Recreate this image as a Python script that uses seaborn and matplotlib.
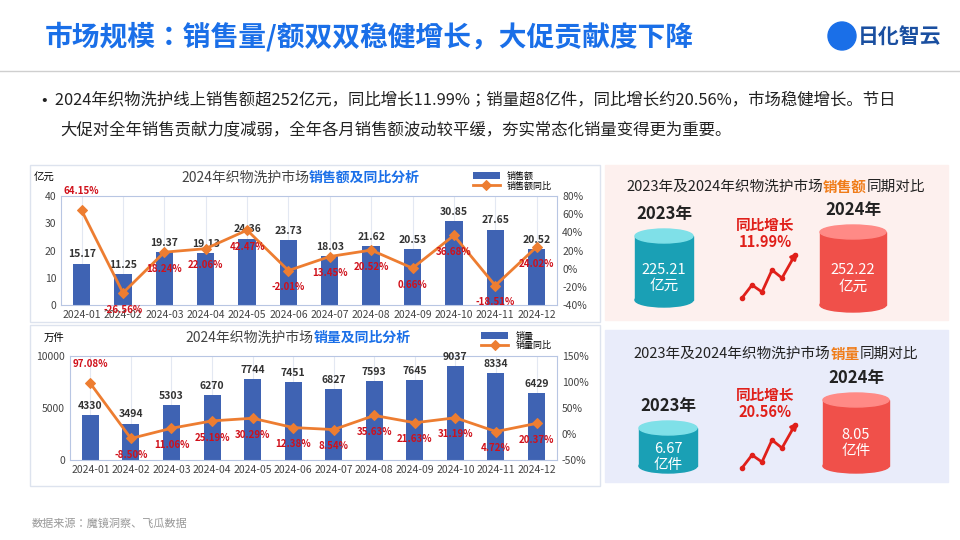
import matplotlib.pyplot as plt
import numpy as np
import pandas as pd
import seaborn as sns
from matplotlib.patches import Ellipse, Rectangle

plt.rcParams["font.family"] = ["Noto Sans CJK JP", "DejaVu Sans"]

months = [f"2024-{m:02d}" for m in range(1, 13)]
sales_amt = [15.17, 11.25, 19.37, 19.13, 24.36, 23.73, 18.03, 21.62, 20.53, 30.85, 27.65, 20.52]
amt_yoy = [64.15, -26.56, 18.24, 22.06, 42.47, -2.01, 13.45, 20.52, 0.66, 36.68, -18.51, 24.02]
sales_vol = [4330, 3494, 5303, 6270, 7744, 7451, 6827, 7593, 7645, 9037, 8334, 6429]
vol_yoy = [97.08, -8.50, 11.06, 25.19, 30.29, 12.38, 8.54, 35.63, 21.63, 31.19, 4.72, 20.37]

BLUE = "#3f63b3"
ORANGE = "#ed7d31"
RED = "#d0101a"
TITLE_BLUE = "#1a6fe8"

fig = plt.figure(figsize=(9.6, 5.4), dpi=100)
bg = fig.add_axes([0, 0, 1, 1])
bg.set_xlim(0, 960)
bg.set_ylim(540, 0)
bg.axis("off")
renderer = fig.canvas.get_renderer()

# header
bg.text(45, 37, "市场规模：销售量/额双双稳健增长，大促贡献度下降", fontsize=20,
        fontweight="bold", color=TITLE_BLUE, va="center")
bg.text(900, 37, "日化智云", fontsize=15, fontweight="bold", color="#1a4fa0",
        va="center", ha="center")
bg.add_patch(Ellipse((842, 36), 28, 28, color="#1a6fe8"))
bg.plot([0, 960], [71, 71], color="#cfcfcf", lw=1)
bg.text(42, 100, "•  2024年织物洗护线上销售额超252亿元，同比增长11.99%；销量超8亿件，同比增长约20.56%，市场稳健增长。节日",
        fontsize=11.8, va="center", color="#222222")
bg.text(60, 130, "大促对全年销售贡献力度减弱，全年各月销售额波动较平缓，夯实常态化销量变得更为重要。",
        fontsize=11.8, va="center", color="#222222")
bg.text(32, 524, "数据来源：魔镜洞察、飞瓜数据", fontsize=8, color="#999999", va="center")

# chart frames
for y0, y1 in [(165, 322), (325, 486)]:
    bg.add_patch(Rectangle((30, y0), 570, y1 - y0, fill=False, ec="#dde3ee", lw=1))

# right panels
bg.add_patch(Rectangle((605, 165), 343, 155, color="#fdf0ee"))
bg.add_patch(Rectangle((605, 330), 343, 152, color="#e9ecfa"))


def cylinder(cx, top, bottom, w, body, cap, label, value):
    bg.add_patch(Rectangle((cx - w / 2, top), w, bottom - top, color=body, zorder=3))
    bg.add_patch(Ellipse((cx, bottom), w, 14, color=body, zorder=3))
    bg.add_patch(Ellipse((cx, top), w, 14, color=cap, zorder=4))
    bg.text(cx, top - 22, label, ha="center", va="center", fontsize=12,
            fontweight="bold", color="#222222")
    bg.text(cx, (top + bottom) / 2 + 10, value, ha="center", va="center",
            fontsize=10.5, color="white", zorder=5, linespacing=1.2)


def zigzag(pct, y_off):
    xs = [742, 752, 762, 772, 782, 795]
    ys = [298, 285, 292, 270, 278, 255]
    bg.plot(xs, [y + y_off for y in ys], color="#e0201a", lw=2, zorder=4)
    bg.annotate("", xy=(800, 250 + y_off), xytext=(790, 262 + y_off),
                arrowprops=dict(arrowstyle="-|>", color="#e0201a", lw=2))
    for x, y in zip(xs, ys):
        bg.plot(x, y + y_off, "o", ms=3, color="#e0201a", zorder=5)
    bg.text(765, 225 + y_off, "同比增长", ha="center", fontsize=10.5,
            fontweight="bold", color="#e0201a", va="center")
    bg.text(765, 242 + y_off, pct, ha="center", fontsize=10.5,
            fontweight="bold", color="#e0201a", va="center")


def panel_title(cx, y, key):
    parts = [("2023年及2024年织物洗护市场", "#222222", "normal"),
             (key, "#f07d1a", "bold"), ("同期对比", "#222222", "normal")]
    texts = [bg.text(0, y, s, ha="left", va="center", fontsize=10.5, color=c,
                     fontweight=w) for s, c, w in parts]
    widths = [t.get_window_extent(renderer).width for t in texts]
    x = cx - sum(widths) / 2
    for t, w in zip(texts, widths):
        t.set_x(x)
        x += w


panel_title(776, 187, "销售额")
cylinder(664, 236, 300, 58, "#1aa0b5", "#7fe0e8", "2023年", "225.21\n亿元")
cylinder(853, 232, 305, 66, "#f0504a", "#ff8a86", "2024年", "252.22\n亿元")
zigzag("11.99%", 0)

panel_title(776, 354, "销量")
cylinder(668, 428, 466, 58, "#1aa0b5", "#7fe0e8", "2023年", "6.67\n亿件")
cylinder(856, 400, 466, 66, "#f0504a", "#ff8a86", "2024年", "8.05\n亿件")
zigzag("20.56%", 170)


def combo(rect, bars, yoy, bar_name, line_name, title_key, unit, ylim, yticks,
          y2lim, y2ticks, bar_fmt):
    df = pd.DataFrame({"month": months, "value": bars, "yoy": yoy})
    ax = fig.add_axes(rect)
    sns.barplot(data=df, x="month", y="value", color=BLUE, width=0.42, ax=ax,
                label=bar_name, saturation=1)
    ax.set_ylim(*ylim)
    ax.set_yticks(yticks)
    ax.grid(axis="x", color="#e3e8f2", lw=0.8)
    ax.set_axisbelow(True)
    ax.set_xlabel("")
    ax.set_ylabel("")
    ax.tick_params(labelsize=7.5, length=0, colors="#444444")
    for s in ax.spines.values():
        s.set_color("#b8c6e3")
    for i, v in enumerate(bars):
        ax.text(i, v + (ylim[1] - ylim[0]) * 0.04, bar_fmt(v), ha="center",
                va="bottom", fontsize=7.5, fontweight="bold", color="#333333")
    ax2 = ax.twinx()
    sns.lineplot(x=np.arange(12), y=yoy, color=ORANGE, lw=2, marker="D", ms=5,
                 mec=ORANGE, ax=ax2, label=line_name, legend=False)
    ax2.set_ylim(*y2lim)
    ax2.set_yticks(y2ticks)
    ax2.set_yticklabels([f"{t}%" for t in y2ticks])
    ax2.tick_params(labelsize=7.5, length=0, colors="#444444")
    for s in ax2.spines.values():
        s.set_visible(False)
    for i, v in enumerate(yoy):
        off = 14 if i == 0 else -12
        ax2.annotate(f"{v:.2f}%", (i, v), xytext=(0, off), textcoords="offset points",
                     ha="center", va="center", fontsize=7, fontweight="bold", color=RED)
    ax.set_xlim(-0.5, 11.5)
    h1, l1 = ax.get_legend_handles_labels()
    h2, l2 = ax2.get_legend_handles_labels()
    ax.legend(h1 + h2, l1 + l2, loc="lower right", bbox_to_anchor=(1.0, 1.0),
              fontsize=6.5, frameon=False, handlelength=3, borderaxespad=0.2,
              labelspacing=0.1)
    ax.text(0.5, 1.17, "2024年织物洗护市场", transform=ax.transAxes, ha="right",
            va="center", fontsize=10, color="#444444")
    ax.text(0.5, 1.17, title_key, transform=ax.transAxes, ha="left",
            va="center", fontsize=10, color=TITLE_BLUE, fontweight="bold")
    ax.text(-0.055, 1.17, unit, transform=ax.transAxes, ha="left", va="center",
            fontsize=7.5)


combo([0.0635, 0.435, 0.517, 0.202], sales_amt, amt_yoy, "销售额", "销售额同比",
      "销售额及同比分析", "亿元", (0, 40), [0, 10, 20, 30, 40],
      (-40, 80), [-40, -20, 0, 20, 40, 60, 80], lambda v: f"{v:.2f}")
combo([0.073, 0.148, 0.507, 0.193], sales_vol, vol_yoy, "销量", "销量同比",
      "销量及同比分析", "万件", (0, 10000), [0, 5000, 10000],
      (-50, 150), [-50, 0, 50, 100, 150], lambda v: f"{v:d}")

fig.savefig("out.png", dpi=100)
